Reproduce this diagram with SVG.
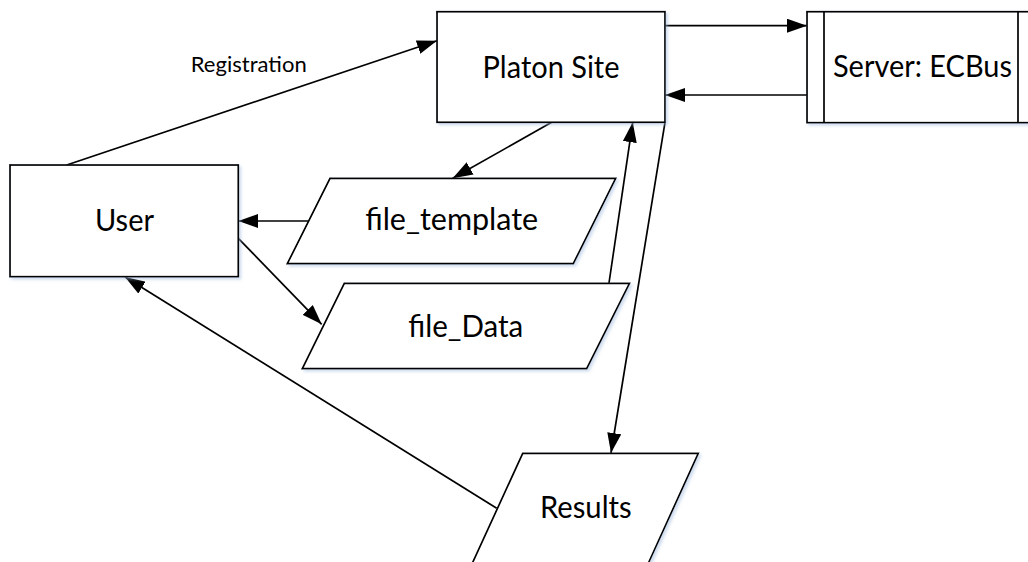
<svg xmlns="http://www.w3.org/2000/svg" width="1028" height="562" viewBox="0 0 1028 562">
  <style>
    .shape { fill: #ffffff; stroke: #000000; stroke-width: 1.7; filter: url(#soft); }
    .edge { fill: none; stroke: #000000; stroke-width: 1.7; marker-end: url(#arrow); }
    .plain { fill: none; stroke: #000000; stroke-width: 1.7; }
    .label { font-family: Lato, "Open Sans", "Liberation Sans", sans-serif; font-size: 30px; fill: #000000; text-anchor: middle; }
    .small { font-family: Lato, "Open Sans", "Liberation Sans", sans-serif; font-size: 22px; fill: #000000; text-anchor: middle; }
  </style>
  <defs>
    <marker id="arrow" markerUnits="userSpaceOnUse" markerWidth="20" markerHeight="14" refX="20" refY="7" orient="auto">
      <path d="M0,0 L20,7 L0,14 Z" fill="#000000"/>
    </marker>
    <filter id="soft" x="-10%" y="-10%" width="130%" height="130%">
      <feDropShadow dx="2" dy="2" stdDeviation="1.5" flood-color="#9db8dc" flood-opacity="0.5"/>
    </filter>
  </defs>

  <!-- connectors -->
  <g id="connectors">
    <path class="edge" d="M66.7,165 L437,40.7"/>
    <path class="edge" d="M665,25.7 L807,25.7"/>
    <path class="edge" d="M807,95 L665,95"/>
    <path class="edge" d="M551.7,122.3 L452.7,178.3"/>
    <path class="edge" d="M308.5,221 L238.3,221"/>
    <path class="edge" d="M238.3,238.3 L321.7,324.3"/>
    <path class="edge" d="M609,283 L632.7,122.3"/>
    <path class="edge" d="M665,122.3 L611,453"/>
    <path class="edge" d="M496.7,508.3 L125,277"/>
    <text class="small" x="248.7" y="71.7" textLength="116" lengthAdjust="spacingAndGlyphs">Registration</text>
  </g>

  <!-- user -->
  <g id="user">
    <rect class="shape" x="10" y="165" width="228.3" height="111.7"/>
    <text class="label" x="124.5" y="230.7" textLength="59" lengthAdjust="spacingAndGlyphs">User</text>
  </g>

  <!-- web site -->
  <g id="platon-site">
    <rect class="shape" x="437" y="11.7" width="228" height="110.6"/>
    <text class="label" x="551" y="77.5" textLength="137" lengthAdjust="spacingAndGlyphs">Platon Site</text>
  </g>

  <!-- server, drawn as a predefined process -->
  <g id="server">
    <rect class="shape" x="807" y="11.7" width="228" height="111"/>
    <line class="plain" x1="824" y1="11.7" x2="824" y2="122.7"/>
    <line class="plain" x1="1018" y1="11.7" x2="1018" y2="122.7"/>
    <text class="label" x="922.5" y="77" textLength="179" lengthAdjust="spacingAndGlyphs">Server: ECBus</text>
  </g>

  <!-- template file -->
  <g id="file-template">
    <path class="shape" d="M330,178.3 L615.7,178.3 L573.3,263.7 L287.3,263.7 Z"/>
    <text class="label" x="451.7" y="230" textLength="173" lengthAdjust="spacingAndGlyphs">file_template</text>
  </g>

  <!-- data file -->
  <g id="file-data">
    <path class="shape" d="M344.3,283.3 L629.5,283.3 L586.7,368.7 L302.3,368.7 Z"/>
    <text class="label" x="465.8" y="336.7" textLength="115" lengthAdjust="spacingAndGlyphs">file_Data</text>
  </g>

  <!-- results -->
  <g id="results">
    <path class="shape" d="M522.7,453.3 L698.3,453.3 L648,564 L472,564 Z"/>
    <text class="label" x="585.8" y="518.3" textLength="91.7" lengthAdjust="spacingAndGlyphs">Results</text>
  </g>
</svg>
